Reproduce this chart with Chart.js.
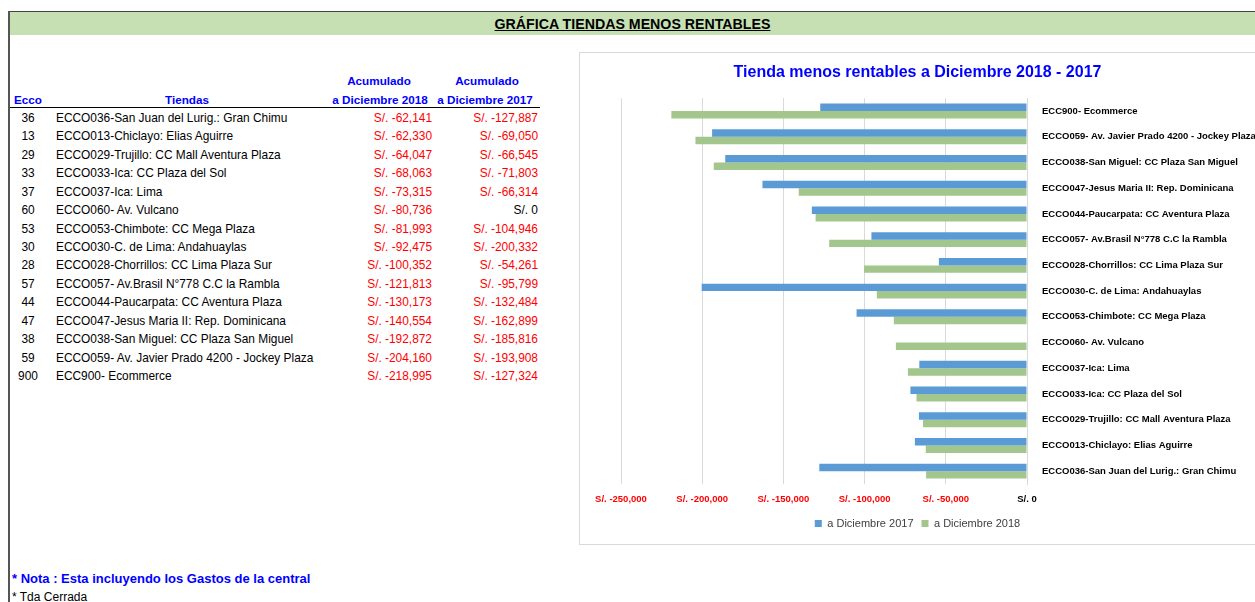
<!DOCTYPE html>
<html>
<head>
<meta charset="utf-8">
<script src="https://cdn.jsdelivr.net/npm/chart.js@4.4.1/dist/chart.umd.min.js"></script>
<style>
html,body{margin:0;padding:0;background:#fff;width:1255px;height:602px;overflow:hidden;}
body{position:relative;font-family:"Liberation Sans",Arial,sans-serif;color:#000;}
.abs{position:absolute;white-space:nowrap;}
#frameTop{left:8px;top:11px;width:1247px;height:1px;background:#444;}
#frameLeft{left:8px;top:11px;width:2px;height:591px;background:#555;}
#titleBar{left:10px;top:12px;width:1245px;height:23px;background:#C6E0B4;}
#title{left:10px;width:1245px;top:12px;height:23px;line-height:24px;text-align:center;font-weight:bold;font-size:14.2px;text-decoration:underline;}
.hdr{color:#0000FF;font-weight:bold;font-size:11.7px;line-height:16px;}
.cell{font-size:11.9px;line-height:18.4px;height:18.4px;}
.neg{color:#FF0000;}
#hline{left:10px;top:107px;width:530px;height:1px;background:#000;}
#nota{left:12px;top:570px;color:#0000FF;font-weight:bold;font-size:13px;line-height:18px;}
#tda{left:12px;top:589px;font-size:12px;line-height:16px;}
#chartBox{left:579px;top:52px;width:690px;height:493px;border:1px solid #D9D9D9;box-sizing:border-box;}
#c{position:absolute;left:580px;top:53px;}
</style>
</head>
<body>
<div class="abs" id="frameTop"></div>
<div class="abs" id="titleBar"></div>
<div class="abs" id="title">GRÁFICA TIENDAS MENOS RENTABLES</div>
<div class="abs" id="frameLeft"></div>
<div id="table"></div>
<div class="abs" id="hline"></div>
<div class="abs" id="nota">* Nota : Esta incluyendo los Gastos de la central</div>
<div class="abs" id="tda">* Tda Cerrada</div>
<div class="abs" id="chartBox"></div>
<canvas id="c" width="675" height="490"></canvas>
<script>
// ---- data (table order) ----
const eccoCodes = [36, 13, 29, 33, 37, 60, 53, 30, 28, 57, 44, 47, 38, 59, 900];
const tiendas = [
  "ECCO036-San Juan del Lurig.: Gran Chimu",
  "ECCO013-Chiclayo: Elias Aguirre",
  "ECCO029-Trujillo: CC Mall Aventura Plaza",
  "ECCO033-Ica: CC Plaza del Sol",
  "ECCO037-Ica: Lima",
  "ECCO060- Av. Vulcano",
  "ECCO053-Chimbote: CC Mega Plaza",
  "ECCO030-C. de Lima: Andahuaylas",
  "ECCO028-Chorrillos: CC Lima Plaza Sur",
  "ECCO057- Av.Brasil N°778 C.C la Rambla",
  "ECCO044-Paucarpata: CC Aventura Plaza",
  "ECCO047-Jesus Maria II: Rep. Dominicana",
  "ECCO038-San Miguel: CC Plaza San Miguel",
  "ECCO059- Av. Javier Prado 4200 - Jockey Plaza",
  "ECC900- Ecommerce"
];
const acum2018 = [-62141, -62330, -64047, -68063, -73315, -80736, -81993, -92475, -100352, -121813, -130173, -140554, -192872, -204160, -218995];
const acum2017 = [-127887, -69050, -66545, -71803, -66314, 0, -104946, -200332, -54261, -95799, -132484, -162899, -185816, -193908, -127324];
const xTicks = [-250000, -200000, -150000, -100000, -50000, 0];
const chartTitle = "Tienda menos rentables a Diciembre 2018 - 2017";
const series2017Label = "a Diciembre 2017";
const series2018Label = "a Diciembre 2018";

function fmt(v){
  const s = Math.abs(v).toString().replace(/\B(?=(\d{3})+(?!\d))/g, ",");
  return "S/. " + (v < 0 ? "-" : "") + s;
}

// ---- table ----
const tbl = document.getElementById('table');
function addDiv(cls, style, text){
  const d = document.createElement('div');
  d.className = 'abs ' + cls;
  d.style.cssText = style;
  d.textContent = text;
  tbl.appendChild(d);
}
addDiv('hdr', 'left:10px;width:36px;top:92px;text-align:center;', 'Ecco');
addDiv('hdr', 'left:100px;width:174px;top:92px;text-align:center;', 'Tiendas');
addDiv('hdr', 'left:319px;width:120px;top:73px;text-align:center;', 'Acumulado');
addDiv('hdr', 'left:320px;width:120px;top:92px;text-align:center;', 'a Diciembre 2018');
addDiv('hdr', 'left:427px;width:120px;top:73px;text-align:center;', 'Acumulado');
addDiv('hdr', 'left:425px;width:120px;top:92px;text-align:center;', 'a Diciembre 2017');
const rowH = 18.43;
for (let i = 0; i < tiendas.length; i++){
  const top = 109 + i*rowH;
  addDiv('cell', `left:10px;width:36px;top:${top}px;text-align:center;`, String(eccoCodes[i]));
  addDiv('cell', `left:56px;top:${top}px;`, tiendas[i]);
  addDiv('cell' + (acum2018[i] < 0 ? ' neg' : ''), `left:332px;width:100px;top:${top}px;text-align:right;`, fmt(acum2018[i]));
  addDiv('cell' + (acum2017[i] < 0 ? ' neg' : ''), `left:438px;width:100px;top:${top}px;text-align:right;`, fmt(acum2017[i]));
}

// ---- chart ----
const F = '"Liberation Sans", Arial, sans-serif';
const labels = tiendas.slice().reverse();
const d2017 = acum2017.slice().reverse();
const d2018 = acum2018.slice().reverse();

new Chart(document.getElementById('c'), {
  type: 'bar',
  data: {
    labels: labels,
    datasets: [
      {label: series2017Label, data: d2017, backgroundColor: '#5B9BD5', categoryPercentage: 0.58, barPercentage: 1.0, xAxisID: 'x', yAxisID: 'y'},
      {label: series2018Label, data: d2018, backgroundColor: '#A3C68C', categoryPercentage: 0.58, barPercentage: 1.0, xAxisID: 'x', yAxisID: 'y'}
    ]
  },
  options: {
    indexAxis: 'y',
    responsive: false,
    animation: false,
    devicePixelRatio: 1,
    layout: {padding: {left: 0, right: 0, top: 0, bottom: 4}},
    plugins: {
      title: {display: true, text: chartTitle, color: '#0000FF', font: {size: 16, weight: 'bold', family: F}, padding: {top: 10, bottom: 16}},
      legend: {position: 'bottom', labels: {boxWidth: 7, boxHeight: 7, font: {size: 11, family: F}, color: '#404040', padding: 8}},
      tooltip: {enabled: false}
    },
    scales: {
      x: {
        type: 'linear', min: -250000, max: 0,
        afterBuildTicks: s => { s.ticks = xTicks.map(v => ({value: v})); },
        ticks: {callback: v => fmt(v), color: c => (c.tick && c.tick.value === 0) ? '#000000' : '#FF0000', font: {size: 9.5, weight: 'bold', family: F}, padding: 10, maxRotation: 0},
        grid: {color: '#D9D9D9', drawTicks: false},
        border: {display: false},
        afterFit: s => { s.height = 26; }
      },
      y: {
        type: 'category', position: 'right',
        ticks: {font: {size: 9.5, weight: 'bold', family: F}, color: '#000000', padding: 15, crossAlign: 'near', autoSkip: false},
        grid: {display: false, drawTicks: false},
        border: {display: true, color: '#D9D9D9'},
        afterFit: s => { s.width = 228; }
      },
      yLeft: {
        type: 'category', position: 'left',
        ticks: {display: false},
        grid: {display: false, drawTicks: false},
        border: {display: false},
        afterFit: s => { s.width = 41; }
      }
    }
  }
});
</script>
</body>
</html>
